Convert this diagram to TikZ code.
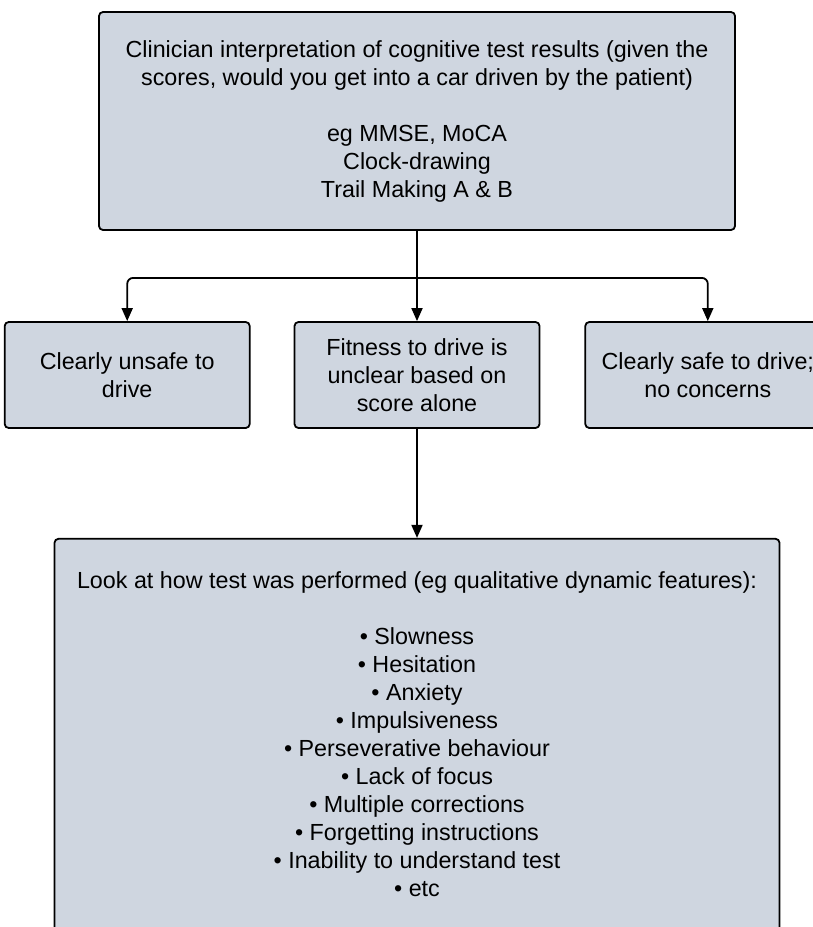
\documentclass[tikz,border=0pt]{standalone}
\usepackage{fontspec}
\setmainfont{Liberation Sans}
\usetikzlibrary{positioning,arrows.meta}
\definecolor{boxfill}{RGB}{207,214,224}
\tikzset{
  box/.style={draw=black, line width=1.8pt, fill=boxfill, rounded corners=4pt,
    align=center, font=\fontsize{23.3}{28}\selectfont},
  stage/.style={box, minimum width=245pt, minimum height=106pt},
  link/.style={line width=1.8pt, rounded corners=6pt, -{Triangle[length=13pt,width=11pt]}}
}
\begin{document}
\begin{tikzpicture}[x=1pt, y=-1pt]
    \useasboundingbox (0,0) rectangle (813,927);

    \node[box, minimum width=636pt, minimum height=218pt] (interp) at (417,121)
    {Clinician interpretation of cognitive test results (given the\\
     scores, would you get into a car driven by the patient)\\[28pt]
     eg MMSE, MoCA\\ Clock-drawing\\ Trail Making A \& B};
    \node[stage] (unclear) at (417,375)
    {Fitness to drive is\\ unclear based on\\ score alone};
    \node[stage, left=43pt of unclear] (unsafe) {Clearly unsafe to\\ drive};
    \node[stage, right=44pt of unclear] (safe) {Clearly safe to drive;\\ no concerns};
    \node[box, below=109pt of unclear, minimum width=725pt, inner ysep=33pt,
      text depth=14pt] (look)
    {Look at how test was performed (eg qualitative dynamic features):\\[28pt]
     • Slowness\\ • Hesitation\\ • Anxiety\\ • Impulsiveness\\
     • Perseverative behaviour\\ • Lack of focus\\ • Multiple corrections\\
     • Forgetting instructions\\ • Inability to understand test\\ • etc};
    \coordinate (split) at ([yshift=-47pt]interp.south);

    \draw[link] (interp.south) -- (unclear.north);
    \draw[link] (split) -| (unsafe.north);
    \draw[link] (split) -| (safe.north);
    \draw[link] (unclear.south) -- (look.north);
\end{tikzpicture}
\end{document}
